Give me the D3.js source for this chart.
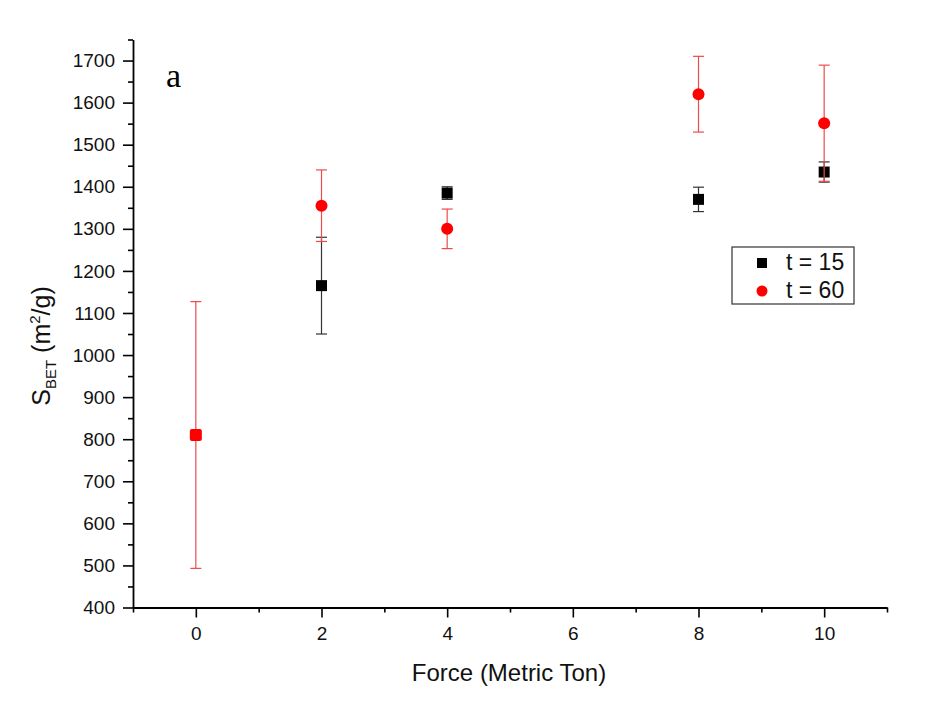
<!DOCTYPE html>
<html>
<head>
<meta charset="utf-8">
<script src="https://cdn.jsdelivr.net/npm/d3@7"></script>
<style>
  html, body { margin: 0; padding: 0; background: #ffffff; }
  svg { display: block; font-family: "Liberation Sans", Arial, sans-serif; }
</style>
</head>
<body>
<svg id="chart" width="928" height="708"></svg>
<script>
// Force applied (metric ton) and BET surface area (m²/g) with error half-widths
const force15 = [2, 4, 8, 10];
const sbet15  = [1165, 1385, 1370, 1435];
const err15   = [115, 15, 29, 24];

const force60 = [2, 4, 8, 10];
const sbet60  = [1355, 1300, 1620, 1551];
const err60   = [85, 47, 90, 138];

// uncompressed reference sample (0 ton)
const force0 = [0];
const sbet0  = [810];
const err0   = [317];

const seriesNames = ["t = 15", "t = 60"];
const xTickValues = [0, 2, 4, 6, 8, 10];
const xMinorValues = [-1, 1, 3, 5, 7, 9, 11];
const yTickValues = d3.range(400, 1701, 100);
const yMinorValues = d3.range(450, 1751, 100);

const svg = d3.select("#chart");

const x = d3.scaleLinear().domain([-1, 11]).range([133, 887]);
const y = d3.scaleLinear().domain([400, 1750]).range([607.5, 39.5]);

const blackC = "#000000";
const redC = "#ff0000";
const redBar = "#ee4a4a";
const blackBar = "#333333";
const fmt = d3.format("d");

// axes
const gx = svg.append("g").attr("transform", `translate(0,${y(400)})`);
gx.call(d3.axisBottom(x).tickValues(xMinorValues).tickSize(5).tickFormat(""))
  .call(g => g.select(".domain").remove());
const gxMain = svg.append("g").attr("transform", `translate(0,${y(400)})`)
  .call(d3.axisBottom(x).tickValues(xTickValues).tickFormat(fmt)
    .tickSize(10).tickSizeOuter(0).tickPadding(9));

const gy = svg.append("g").attr("transform", `translate(${x(-1)},0)`);
gy.call(d3.axisLeft(y).tickValues(yMinorValues).tickSize(5).tickFormat(""))
  .call(g => g.select(".domain").remove());
const gyMain = svg.append("g").attr("transform", `translate(${x(-1)},0)`)
  .call(d3.axisLeft(y).tickValues(yTickValues).tickFormat(fmt)
    .tickSize(10).tickSizeOuter(0).tickPadding(8));

svg.selectAll(".domain").attr("stroke", "#000").attr("stroke-width", 1.8);
svg.selectAll(".tick line").attr("stroke", "#000").attr("stroke-width", 1.6);
svg.selectAll(".tick text")
  .attr("font-size", 19)
  .attr("fill", "#111")
  .attr("font-family", "'Liberation Sans', Arial, sans-serif");

// axis titles
svg.append("text")
  .attr("x", 509).attr("y", 681)
  .attr("text-anchor", "middle")
  .attr("font-size", 24)
  .attr("fill", "#111")
  .text("Force (Metric Ton)");

const yTitle = svg.append("text")
  .attr("transform", "translate(50,346) rotate(-90)")
  .attr("text-anchor", "middle")
  .attr("font-size", 25)
  .attr("fill", "#111");
yTitle.append("tspan").text("S");
yTitle.append("tspan").attr("font-size", 15).attr("dy", 6).text("BET");
yTitle.append("tspan").attr("dy", -6).text(" (m");
yTitle.append("tspan").attr("font-size", 15).attr("dy", -10).text("2");
yTitle.append("tspan").attr("dy", 10).text("/g)");

// panel letter
svg.append("text")
  .attr("x", 166).attr("y", 87)
  .attr("font-family", "'Liberation Serif', 'Times New Roman', serif")
  .attr("font-size", 34)
  .attr("fill", "#000")
  .text("a");

// error bars
function errorBars(fx, vals, errs, color, width) {
  const rows = fx.map((f, i) => ({ f, v: vals[i], e: errs[i] }));
  const g = svg.append("g").attr("stroke", color).attr("stroke-width", width).attr("fill", "none");
  g.selectAll("line.stem").data(rows).join("line").attr("class", "stem")
    .attr("x1", d => x(d.f)).attr("x2", d => x(d.f))
    .attr("y1", d => y(d.v - d.e)).attr("y2", d => y(d.v + d.e));
  g.selectAll("line.capTop").data(rows).join("line").attr("class", "capTop")
    .attr("x1", d => x(d.f) - 5.5).attr("x2", d => x(d.f) + 5.5)
    .attr("y1", d => y(d.v + d.e)).attr("y2", d => y(d.v + d.e));
  g.selectAll("line.capBot").data(rows).join("line").attr("class", "capBot")
    .attr("x1", d => x(d.f) - 5.5).attr("x2", d => x(d.f) + 5.5)
    .attr("y1", d => y(d.v - d.e)).attr("y2", d => y(d.v - d.e));
  return rows;
}

// t = 15 (black squares)
const rows15 = errorBars(force15, sbet15, err15, blackBar, 1.2);
svg.append("g").selectAll("rect").data(rows15).join("rect")
  .attr("x", d => x(d.f) - 5.5).attr("y", d => y(d.v) - 5.5)
  .attr("width", 11).attr("height", 11)
  .attr("fill", blackC);

// reference sample at 0 ton
const rows0 = errorBars(force0, sbet0, err0, redBar, 1.2);
svg.append("g").selectAll("rect").data(rows0).join("rect")
  .attr("x", d => x(d.f) - 6).attr("y", d => y(d.v) - 6)
  .attr("width", 12).attr("height", 12).attr("rx", 2)
  .attr("fill", redC);

// t = 60 (red circles)
const rows60 = errorBars(force60, sbet60, err60, redBar, 1.2);
svg.append("g").selectAll("circle").data(rows60).join("circle")
  .attr("cx", d => x(d.f)).attr("cy", d => y(d.v))
  .attr("r", 6)
  .attr("fill", redC);

// legend
const lg = svg.append("g");
lg.append("rect")
  .attr("x", 732).attr("y", 247).attr("width", 122).attr("height", 57)
  .attr("fill", "#fff").attr("stroke", "#333").attr("stroke-width", 1.2);
lg.append("rect").attr("x", 757).attr("y", 258).attr("width", 10).attr("height", 10).attr("fill", blackC);
lg.append("circle").attr("cx", 762).attr("cy", 291).attr("r", 5.5).attr("fill", redC);
lg.selectAll("text.lbl").data(seriesNames).join("text").attr("class", "lbl")
  .attr("x", 786).attr("y", (d, i) => 270 + i * 28)
  .attr("font-size", 23).attr("fill", "#111")
  .text(d => d);
</script>
</body>
</html>
